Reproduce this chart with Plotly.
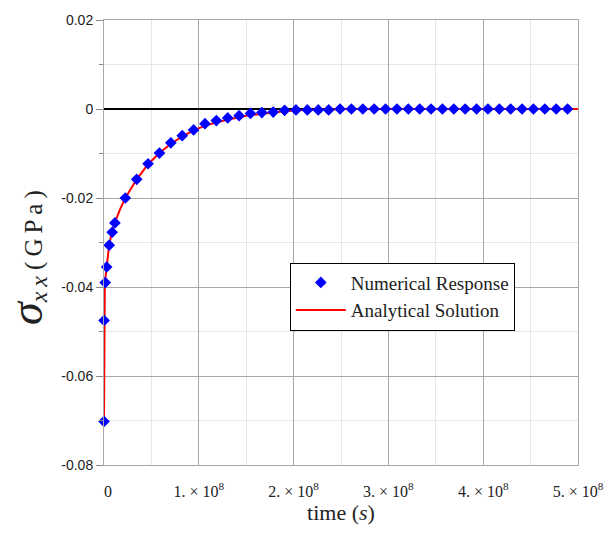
import plotly.graph_objects as go

# Numerical response (time in s, stress in GPa)
num_t = [0.0, 0.001e8, 0.013e8, 0.028e8, 0.055e8, 0.086e8, 0.115e8,
         0.225e8, 0.345e8, 0.465e8, 0.585e8, 0.705e8, 0.825e8, 0.945e8,
         1.065e8, 1.185e8, 1.305e8, 1.425e8, 1.545e8, 1.665e8, 1.785e8,
         1.905e8, 2.025e8, 2.145e8, 2.26e8, 2.37e8, 2.49e8, 2.61e8,
         2.73e8, 2.85e8, 2.97e8, 3.09e8, 3.21e8, 3.33e8, 3.45e8, 3.57e8,
         3.69e8, 3.81e8, 3.93e8, 4.05e8, 4.17e8, 4.29e8, 4.41e8, 4.53e8,
         4.65e8, 4.77e8, 4.89e8]
num_s = [-0.0702, -0.0475, -0.0390, -0.0355, -0.0306, -0.0277, -0.0256,
         -0.0200, -0.0158, -0.0123, -0.0099, -0.0076, -0.0060, -0.0047,
         -0.0033, -0.0026, -0.0020, -0.0015, -0.0010, -0.0008, -0.0007,
         -0.0003, -0.0002, -0.0002, -0.0002, -0.0002, 0.0, 0.0,
         0.0, 0.0, 0.0, 0.0, 0.0, 0.0, 0.0, 0.0,
         0.0, 0.0, 0.0, 0.0, 0.0, 0.0, 0.0, 0.0,
         0.0, 0.0, 0.0]

# Analytical solution
ana_t = [0.0, 0.002e8, 0.008e8, 0.015e8, 0.028e8, 0.055e8, 0.086e8, 0.115e8,
         0.17e8, 0.225e8, 0.345e8, 0.465e8, 0.585e8, 0.705e8, 0.825e8,
         0.945e8, 1.05e8, 1.15e8, 1.3e8, 1.5e8, 1.7e8, 1.9e8, 2.1e8, 2.3e8,
         2.6e8, 3.0e8, 4.0e8, 5.0e8]
ana_s = [-0.0700, -0.0470, -0.0410, -0.0380, -0.0352, -0.0305, -0.0275, -0.0255,
         -0.0225, -0.0200, -0.0158, -0.0124, -0.0099, -0.0078, -0.0062,
         -0.0048, -0.0039, -0.0032, -0.0024, -0.0015, -0.0010, -0.0005, -0.0002, -0.0001,
         0.0, 0.0, 0.0, 0.0]

x_ticks = [0, 1e8, 2e8, 3e8, 4e8, 5e8]
x_labels = ["  0", "1. × 10<sup>8</sup>", "2. × 10<sup>8</sup>", "3. × 10<sup>8</sup>",
            "4. × 10<sup>8</sup>", "5. × 10<sup>8</sup>"]
y_ticks = [0.02, 0.0, -0.02, -0.04, -0.06, -0.08]
y_labels = ["0.02", "0", "-0.02", "-0.04", "-0.06", "-0.08"]

SERIF = "Liberation Serif"
SANS = "Liberation Sans"

fig = go.Figure()
fig.add_trace(go.Scatter(x=ana_t, y=ana_s, mode="lines", name="Analytical Solution",
                         line=dict(color="#ff0000", width=2), cliponaxis=False))
fig.add_trace(go.Scatter(x=num_t, y=num_s, mode="markers", name="Numerical Response",
                         marker=dict(symbol="diamond", color="#0000ff", size=9,
                                     line=dict(width=0)), cliponaxis=False))

fig.update_layout(
    width=616, height=533,
    margin=dict(l=104, r=30, t=15, b=68),
    paper_bgcolor="white", plot_bgcolor="white",
    showlegend=True,
    legend=dict(x=0.392, y=0.455, xanchor="left", yanchor="top",
                bgcolor="white", bordercolor="black", borderwidth=1,
                font=dict(family=SERIF, size=19, color="#222"),
                traceorder="reversed", itemwidth=50, tracegroupgap=0),
    xaxis=dict(range=[0, 5e8], tickmode="array", tickvals=x_ticks, ticktext=x_labels,
               showgrid=True, gridcolor="#a8a8a8", gridwidth=1,
               minor=dict(dtick=0.5e8, showgrid=True, gridcolor="#e6e6e6", gridwidth=1),
               zeroline=True, zerolinecolor="#404040", zerolinewidth=2,
               showline=True, linecolor="#a8a8a8", linewidth=1, mirror=True,
               ticks="", ticklabelstandoff=12,
               tickfont=dict(family=SERIF, size=16, color="#222"),
               title=dict(text="time (<i>s</i>)", font=dict(family=SERIF, size=22, color="#222"),
                          standoff=5)),
    yaxis=dict(range=[-0.08, 0.02], tickmode="array", tickvals=y_ticks, ticktext=y_labels,
               showgrid=True, gridcolor="#a8a8a8", gridwidth=1,
               minor=dict(dtick=0.01, showgrid=True, gridcolor="#e6e6e6", gridwidth=1,
                          ticks="outside", ticklen=4, tickcolor="#888"),
               zeroline=True, zerolinecolor="black", zerolinewidth=1.5,
               showline=True, linecolor="#a8a8a8", linewidth=1, mirror=True,
               ticks="outside", ticklen=7, tickcolor="#888",
               tickfont=dict(family=SANS, size=14, color="#222")),
)

fig.add_annotation(
    xref="paper", yref="paper", x=-0.165, y=0.467, xanchor="center", yanchor="middle",
    textangle=-90, showarrow=False,
    text=("<span style='font-size:46px'><i>σ</i></span>"
          "<sub><span style='font-size:24px'><i>x\u2009x</i></span></sub>"
          " (\u2009G\u2009P\u2009a\u2009)"),
    font=dict(family=SERIF, size=25, color="#222"))

fig.write_html("out.html")
